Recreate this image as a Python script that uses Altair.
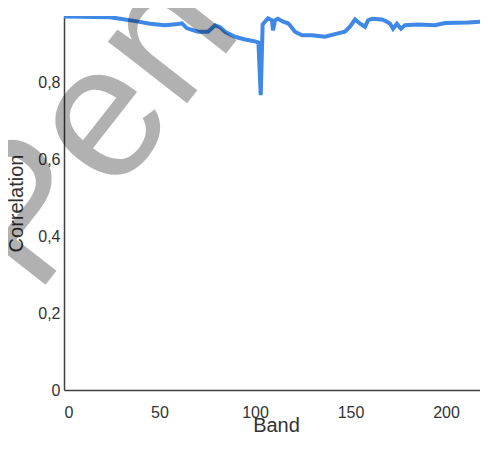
import altair as alt
import pandas as pd

band = [0, 8.4, 24.1, 38.2, 45.0, 52.9, 59.7, 61.8, 64.4, 70.2, 75.4, 79.1, 81.7, 84.3,
        89.5, 94.8, 100.0, 101.8, 103.0, 104.0, 105.2, 106.8, 108.9, 109.4, 110.5, 112.0,
        114.7, 117.3, 118.3, 120.9, 124.6, 129.8, 136.6, 141.9, 147.1, 149.7, 152.4, 155.0,
        157.6, 159.2, 161.3, 166.5, 169.1, 170.7, 172.3, 174.3, 176.4, 178.5, 185.3, 194.2,
        199.5, 211.5, 220.4, 222.0]
corr = [0.971, 0.970, 0.969, 0.958, 0.952, 0.948, 0.951, 0.953, 0.940, 0.931, 0.931, 0.948,
        0.943, 0.931, 0.918, 0.911, 0.906, 0.903, 0.766, 0.950, 0.957, 0.966, 0.961, 0.935,
        0.961, 0.965, 0.957, 0.953, 0.948, 0.931, 0.922, 0.922, 0.918, 0.925, 0.931, 0.944,
        0.963, 0.952, 0.944, 0.961, 0.965, 0.963, 0.957, 0.952, 0.939, 0.952, 0.939, 0.948,
        0.950, 0.948, 0.954, 0.955, 0.958, 0.958]

x_ticks = [0, 50, 100, 150, 200]
y_ticks = [0, 0.2, 0.4, 0.6, 0.8]
watermark = "Pene"

df = pd.DataFrame({"Band": band, "Correlation": corr})

line = alt.Chart(df).mark_line(color="#3F88E8", strokeWidth=4, clip=True).encode(
    x=alt.X("Band:Q",
            scale=alt.Scale(domain=[0, 217.8], nice=False),
            axis=alt.Axis(values=x_ticks, title="Band", grid=False, ticks=False,
                          labelPadding=14, titlePadding=-5, titleX=212)),
    y=alt.Y("Correlation:Q",
            scale=alt.Scale(domain=[0, 0.972], nice=False),
            axis=alt.Axis(values=y_ticks, title="Correlation", grid=False, ticks=False,
                          labelPadding=4, titlePadding=11,
                          labelExpr="datum.value == 0 ? '0' : replace(format(datum.value, '.1f'), '.', ',')")),
)

wm = alt.Chart(alt.Data(values=[{"t": watermark}])).mark_text(
    font="Liberation Sans", fontSize=190, angle=308, align="left", baseline="alphabetic",
    color="black", opacity=0.3,
).encode(text="t:N", x=alt.value(-28), y=alt.value(281))

chart = alt.layer(line, wm).properties(
    width=416, height=374,
    autosize=alt.AutoSizeParams(type="none"),
    padding={"left": 56, "top": 8, "right": 0, "bottom": 46},
).configure_view(stroke=None).configure_axis(
    domainColor="#404040", domainWidth=1.5,
    labelFont="Liberation Sans", labelFontSize=16, labelColor="#333333",
    titleFont="Liberation Sans", titleFontSize=20, titleFontWeight="normal", titleColor="#333333",
)

chart.save("out.html", embed_options={"renderer": "svg", "actions": False})
